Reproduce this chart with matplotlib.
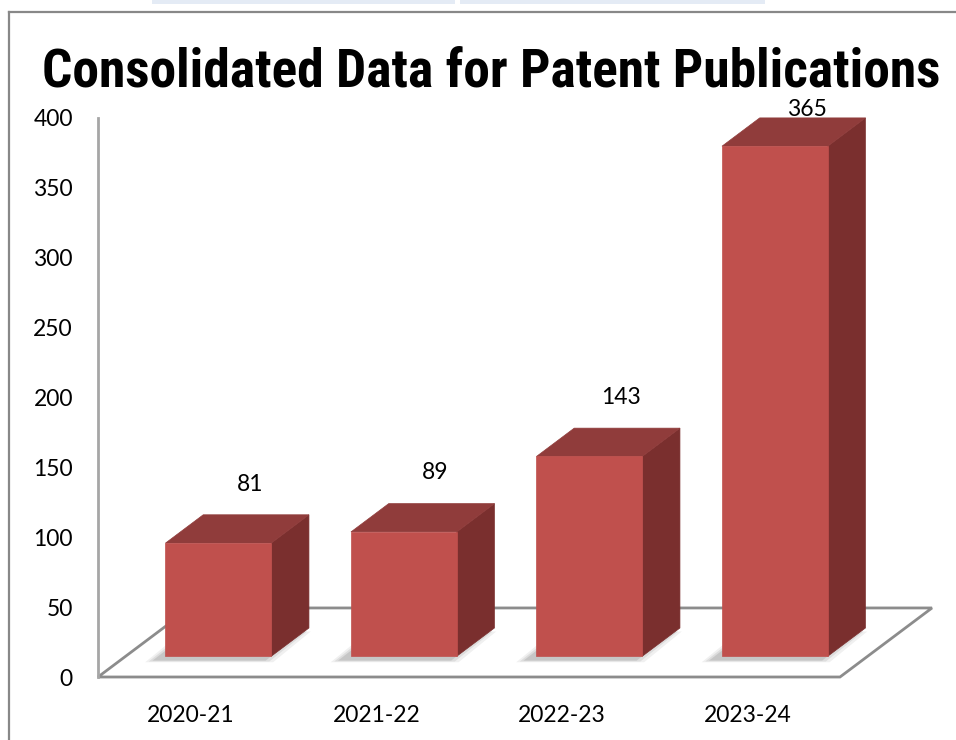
import matplotlib
matplotlib.use("Agg")
import matplotlib.pyplot as plt
from matplotlib import font_manager
from matplotlib.patches import Polygon, Rectangle
from matplotlib.lines import Line2D

# chart data
years = ["2020-21", "2021-22", "2022-23", "2023-24"]
publications = [81, 89, 143, 365]
y_ticks = [0, 50, 100, 150, 200, 250, 300, 350, 400]

# fake 3d look: how far the floor recedes (in data units)
DEPTH_X = 0.496
DEPTH_Y = 49.4
FRONT = 0.30   # bar front at this fraction of floor depth
BACK = 0.71    # bar back face
HALF_W = 0.285

FRONT_COL = "#C0504D"
TOP_COL = "#903C3B"
SIDE_COL = "#7A2F2E"
EDGE_COL = "#8C8C8C"


def draw_bar(ax, i, v):
    x0 = i - HALF_W + FRONT * DEPTH_X
    x1 = i + HALF_W + FRONT * DEPTH_X
    y0 = FRONT * DEPTH_Y
    y1 = v + y0
    ddx = (BACK - FRONT) * DEPTH_X
    ddy = (BACK - FRONT) * DEPTH_Y

    # soft shadow on the floor
    for k, a in enumerate([0.06, 0.08, 0.10]):
        s = 0.02 * (3 - k)
        sx, sy = -0.05, -2.5
        foot = [(x0 + sx - s, y0 + sy - 30 * s), (x1 + sx + s, y0 + sy - 30 * s),
                (x1 + ddx + sx + s, y0 + ddy + sy), (x0 + ddx + sx - s, y0 + ddy + sy)]
        ax.add_patch(Polygon(foot, closed=True, facecolor="black", alpha=a,
                             edgecolor="none", zorder=2, clip_on=False))

    front = [(x0, y0), (x1, y0), (x1, y1), (x0, y1)]
    top = [(x0, y1), (x1, y1), (x1 + ddx, y1 + ddy), (x0 + ddx, y1 + ddy)]
    side = [(x1, y0), (x1 + ddx, y0 + ddy), (x1 + ddx, y1 + ddy), (x1, y1)]
    for pts, col in [(side, SIDE_COL), (top, TOP_COL), (front, FRONT_COL)]:
        ax.add_patch(Polygon(pts, closed=True, facecolor=col, edgecolor=col,
                             linewidth=0.5, zorder=3, clip_on=False))

    # value label above the bar top
    ly = min(v + BACK * DEPTH_Y + 22, 406)
    ax.text(i + 0.32, ly, str(v), ha="center", va="center", fontsize=16.5,
            family="Lato", color="black", zorder=5, clip_on=False)


def is_bold(entry):
    w = entry.weight
    if isinstance(w, str):
        w = font_manager.weight_dict.get(w, 400)
    return w >= 700


# a narrow bold face if one is around (Arial Narrow look-alikes first)
bold_names = {f.name for f in font_manager.fontManager.ttflist if is_bold(f)}
preferred = ["Liberation Sans Narrow", "Arial Narrow", "Roboto Condensed",
             "Noto Sans Condensed", "Open Sans Condensed", "Open Sans SemiCondensed",
             "Noto Sans SemiCondensed"]
narrow = [n for n in preferred if n in bold_names]
narrow += sorted(n for n in bold_names if "Narrow" in n or "Condensed" in n)
title_family = narrow[:1] + ["Liberation Sans", "DejaVu Sans"]

fig = plt.figure(figsize=(9.56, 7.4), dpi=100)
fig.patch.set_facecolor("white")

# window frame and the bits of toolbar above it
fig.add_artist(Line2D([9 / 956, 9 / 956], [0, 1 - 12 / 740], color="#888888", lw=1.6))
fig.add_artist(Line2D([9 / 956, 1], [1 - 12 / 740, 1 - 12 / 740], color="#888888", lw=1.6))
fig.add_artist(Rectangle((152 / 956, 1 - 4 / 740), 303 / 956, 4 / 740,
                         transform=fig.transFigure, color="#E4EBF5", lw=0))
fig.add_artist(Rectangle((460 / 956, 1 - 4 / 740), 305 / 956, 4 / 740,
                         transform=fig.transFigure, color="#E4EBF5", lw=0))

title = fig.text(491 / 956, 1 - 72 / 740, "Consolidated Data for Patent Publications",
                 ha="center", va="center", fontsize=44, fontweight="bold",
                 family=title_family)
# shrink the title until it spans the same width as the original (~898 px)
fig.canvas.draw()
w = title.get_window_extent().width
if w > 898:
    title.set_fontsize(44 * 898 / w)

ax = fig.add_axes([98 / 956, 63 / 740, 742 / 956, 559 / 740])
ax.set_xlim(-0.5, 3.5)
ax.set_ylim(0, 400)
ax.patch.set_alpha(0)

# floor
floor = [(-0.5, 0), (3.5, 0), (3.5 + DEPTH_X, DEPTH_Y), (-0.5 + DEPTH_X, DEPTH_Y)]
ax.add_patch(Polygon(floor, closed=True, facecolor="white", edgecolor=EDGE_COL,
                     linewidth=2, zorder=1, clip_on=False))

for i, v in enumerate(publications):
    draw_bar(ax, i, v)

for s in ["top", "right", "bottom"]:
    ax.spines[s].set_visible(False)
ax.spines["left"].set_color("#A6A6A6")
ax.spines["left"].set_linewidth(2)

ax.set_yticks(y_ticks)
ax.set_xticks(range(len(years)))
ax.set_xticklabels(years)
ax.tick_params(axis="y", length=0, pad=18, labelsize=16.5)
ax.tick_params(axis="x", length=0, pad=20, labelsize=16.5)
for lab in ax.get_xticklabels() + ax.get_yticklabels():
    lab.set_family("Lato")

fig.savefig("out.png", dpi=100)
